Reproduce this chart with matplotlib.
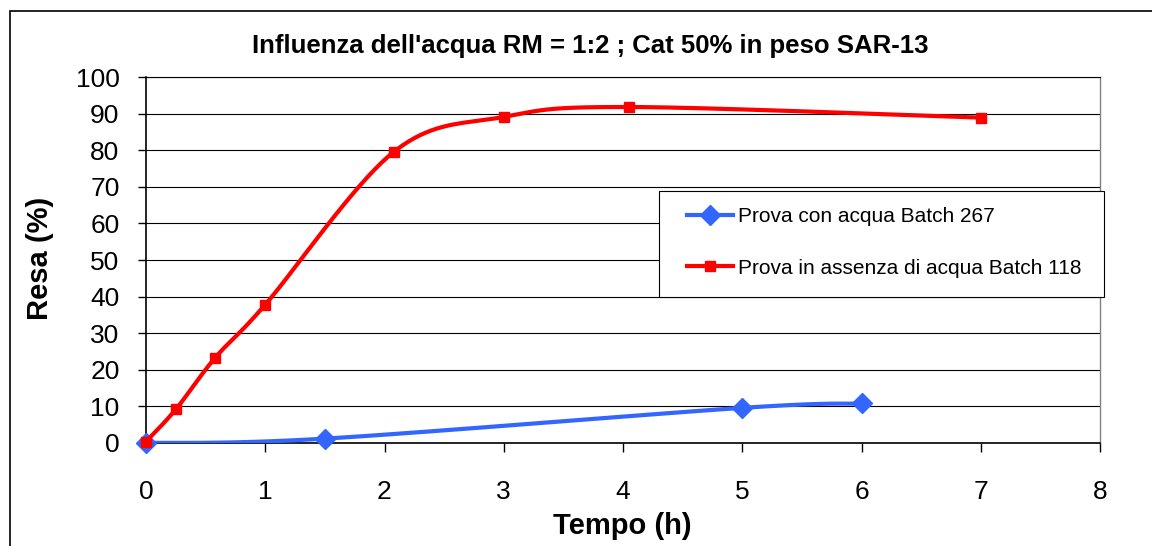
import numpy as np
import matplotlib.pyplot as plt
from matplotlib.patches import Rectangle

plt.rcParams['font.family'] = ['Liberation Sans', 'DejaVu Sans']

title = "Influenza dell'acqua RM = 1:2 ; Cat 50% in peso SAR-13"
x_label = "Tempo (h)"
y_label = "Resa (%)"

water_label = "Prova con acqua Batch 267"
water_t = [0, 1.5, 5, 6]
water_y = [0, 1.2, 9.6, 10.8]

dry_label = "Prova in assenza di acqua Batch 118"
dry_t = [0, 0.25, 0.58, 1, 2.08, 3, 4.05, 7]
dry_y = [0.4, 9.2, 23.3, 37.8, 79.6, 89.1, 91.8, 88.9]


def smooth(xs, ys, n=40):
    # Excel-style smoothed line: Catmull-Rom as cubic Bezier segments
    p = np.column_stack([xs, ys]).astype(float)
    p = np.vstack([p[0], p, p[-1]])
    out = []
    for i in range(1, len(p) - 2):
        p0, p1, p2, p3 = p[i - 1], p[i], p[i + 1], p[i + 2]
        c1 = p1 + (p2 - p0) / 6
        c2 = p2 - (p3 - p1) / 6
        t = np.linspace(0, 1, n)[:, None]
        seg = ((1 - t) ** 3) * p1 + 3 * ((1 - t) ** 2) * t * c1 \
            + 3 * (1 - t) * t ** 2 * c2 + t ** 3 * p2
        out.append(seg if i == 1 else seg[1:])
    out = np.vstack(out)
    return out[:, 0], out[:, 1]


W, H = 1152, 546
fig = plt.figure(figsize=(W / 100, H / 100), dpi=100)
ax = fig.add_axes([146 / W, 1 - 443 / H, (1100 - 146) / W, (443 - 77) / H])

blue = '#3366FF'
red = '#FF0000'

sx, sy = smooth(water_t, water_y)
ax.plot(sx, sy, color=blue, lw=3, solid_capstyle='round', zorder=3)
ax.plot(water_t, water_y, ls='none', marker='D', ms=10, color=blue,
        zorder=4, clip_on=False)
sx, sy = smooth(dry_t, dry_y)
ax.plot(sx, sy, color=red, lw=3, solid_capstyle='round', zorder=5)
ax.plot(dry_t, dry_y, ls='none', marker='s', ms=7, color=red,
        zorder=6, clip_on=False)

ax.set_xlim(0, 8)
ax.set_ylim(0, 100)
ax.set_xticks(range(0, 9))
ax.set_yticks(range(0, 101, 10))
ax.yaxis.grid(True, color='black', lw=0.8)
ax.set_axisbelow(True)
ax.tick_params(axis='x', labelsize=19, length=6.5, width=1, pad=20, direction='out')
ax.tick_params(axis='y', labelsize=19, length=6, width=1, pad=13, direction='out')
for side in ['left', 'bottom', 'top']:
    ax.spines[side].set_color('black')
    ax.spines[side].set_linewidth(1.2)
ax.spines['top'].set_linewidth(0.8)
ax.spines['right'].set_color('#808080')
ax.spines['right'].set_linewidth(1)

# legend frame drawn separately so the padding matches
ax.add_patch(Rectangle((659 / W, 1 - 297 / H), (1104 - 659) / W, (297 - 191) / H,
                       transform=fig.transFigure, facecolor='white',
                       edgecolor='black', lw=0.8, zorder=7, clip_on=False))
handles = [
    plt.Line2D([], [], color=blue, lw=3, marker='D', ms=10),
    plt.Line2D([], [], color=red, lw=3, marker='s', ms=7),
]
leg = ax.legend(handles, [water_label, dry_label], loc='center left',
                bbox_to_anchor=(687 / W, 1 - 242.5 / H), bbox_transform=fig.transFigure,
                borderaxespad=0, borderpad=0, fontsize=15, frameon=False,
                handlelength=2.2, handletextpad=0.25, labelspacing=1.54)
leg.set_zorder(8)

fig.text(590 / W, 1 - 53 / H, title, ha='center', va='baseline',
         fontsize=18.5, fontweight='bold')
fig.text(622 / W, 1 - 526 / H, x_label, ha='center', va='center',
         fontsize=21, fontweight='bold')
fig.text(40 / W, 1 - 258 / H, y_label, ha='center', va='center',
         fontsize=21, fontweight='bold', rotation=90)

fig.patches.append(Rectangle((10 / W, -0.1), 2, 1 - 11 / H + 0.1,
                             transform=fig.transFigure, fill=False,
                             ec='black', lw=1.2))

fig.savefig('out.png', dpi=100)
